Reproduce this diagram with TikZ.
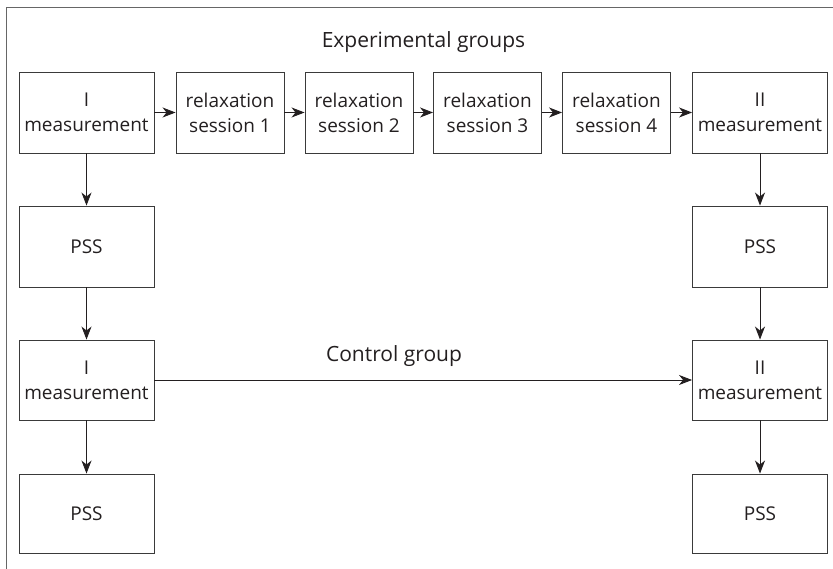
\documentclass[tikz,border=0pt]{standalone}
\usepackage{fontspec}
\setmainfont{Open Sans}
\usetikzlibrary{arrows.meta}
\definecolor{ink}{HTML}{231F20}
\definecolor{edge}{HTML}{3A3A3A}
\begin{document}
\begin{tikzpicture}[x=1pt,y=-1pt,
  box/.style={draw=edge, line width=0.9pt, text=ink, align=center,
    inner sep=0pt, font=\fontsize{19}{25}\selectfont},
  wide/.style={box, minimum width=135pt, minimum height=81pt},
  relax/.style={box, minimum width=108pt, minimum height=81pt},
  arr/.style={draw=ink, line width=0.9pt, -{Stealth[length=13pt,width=10pt,inset=4pt]}},
  lbl/.style={text=ink, font=\fontsize{21}{25}\selectfont, anchor=base, inner sep=0pt}
]
\useasboundingbox (0,0) rectangle (833,569);
\draw[draw=gray!80!black, line width=0.8pt] (833,7) -- (6,7) -- (6,569);

\node[wide] (m1) at (86.5,112.5) {I\\measurement};
\node[relax] (r1) at (230,112.5) {relaxation\\session 1};
\node[relax] (r2) at (359,112.5) {relaxation\\session 2};
\node[relax] (r3) at (487.5,112.5) {relaxation\\session 3};
\node[relax] (r4) at (616.5,112.5) {relaxation\\session 4};
\node[wide] (m2) at (760,112.5) {II\\measurement};

\node[wide] (p1) at (86.5,246.5) {PSS};
\node[wide] (p2) at (760,246.5) {PSS};

\node[wide, minimum height=80pt] (m3) at (86.5,380) {I\\measurement};
\node[wide, minimum height=80pt] (m4) at (760,380) {II\\measurement};

\node[wide, minimum height=79pt] (p3) at (86.5,513.5) {PSS};
\node[wide, minimum height=79pt] (p4) at (760,513.5) {PSS};

\node[lbl] (eg) at (423.5,48) {Experimental groups};
\node[lbl] (cg) at (394,362) {Control group};

\draw[arr] (m1) -- (r1);
\draw[arr] (r1) -- (r2);
\draw[arr] (r2) -- (r3);
\draw[arr] (r3) -- (r4);
\draw[arr] (r4) -- (m2);
\draw[arr] (m1) -- (p1);
\draw[arr] (p1) -- (m3);
\draw[arr] (m3) -- (p3);
\draw[arr] (m2) -- (p2);
\draw[arr] (p2) -- (m4);
\draw[arr] (m4) -- (p4);
\draw[arr] (m3.east) -- (m4.west);
\end{tikzpicture}
\end{document}
